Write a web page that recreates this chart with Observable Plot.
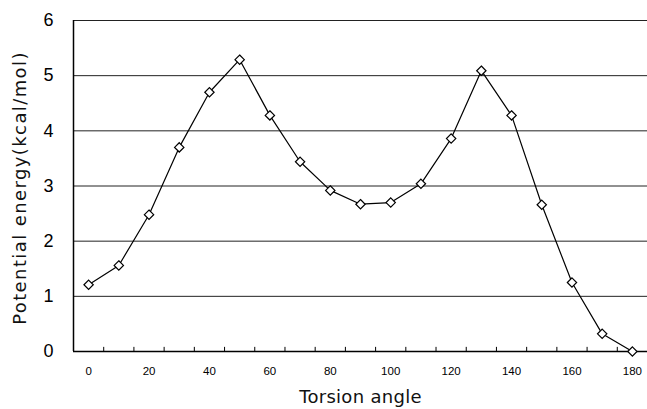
<!DOCTYPE html>
<html>
<head>
<meta charset="utf-8">
<script src="https://cdn.jsdelivr.net/npm/d3@7"></script>
<script src="https://cdn.jsdelivr.net/npm/@observablehq/plot@0.6"></script>
<style>
  html, body { margin: 0; padding: 0; background: #fff; }
  svg { display: block; }
</style>
</head>
<body>
<div id="chart"></div>
<script>
const angles = [0,10,20,30,40,50,60,70,80,90,100,110,120,130,140,150,160,170,180];
const energies = [1.21,1.56,2.48,3.7,4.7,5.29,4.28,3.44,2.92,2.67,2.70,3.04,3.86,5.09,4.28,2.66,1.25,0.32,0.0];
const xTickLabels = [0,20,40,60,80,100,120,140,160,180];
const xTickMarks = [5,15,25,35,45,55,65,75,85,95,105,115,125,135,145,155,165,175];
const yTicks = [0,1,2,3,4,5,6];
const gridLines = [1,2,3,4,5,6];
const xTitle = "Torsion angle";
const yTitle = "Potential energy(kcal/mol)";

const data = angles.map((a, i) => ({angle: a, energy: energies[i]}));

const chart = Plot.plot({
  width: 647,
  height: 409,
  marginLeft: 73,
  marginRight: 0,
  marginTop: 20,
  marginBottom: 58,
  style: {fontFamily: "'Liberation Sans', Arial, sans-serif", background: "#fff", color: "#000", overflow: "visible"},
  x: {domain: [-5, 185], label: null},
  y: {domain: [0, 6], label: null},
  marks: [
    Plot.ruleY(gridLines, {stroke: "#222", strokeWidth: 1}),
    Plot.ruleY([0], {stroke: "#000", strokeWidth: 1.5}),
    Plot.ruleX([-5], {stroke: "#000", strokeWidth: 1.5}),
    Plot.ruleX(xTickMarks, {y1: 0, y2: 0.075, stroke: "#000", strokeWidth: 1}),
    Plot.axisX({ticks: xTickLabels, tickSize: 0, tickPadding: 15, fontSize: 11.5, label: null}),
    Plot.axisY({ticks: yTicks, tickSize: 0, tickPadding: 20, fontSize: 18, tickFormat: "d", label: null}),
    Plot.text([xTitle], {frameAnchor: "bottom", dy: 51, fontSize: 18, fontFamily: "'DejaVu Sans', sans-serif", fill: "#111", text: d => d}),
    Plot.text([yTitle], {frameAnchor: "left", dx: -53, dy: 2, rotate: -90, textAnchor: "middle", fontSize: 18, fontFamily: "'DejaVu Sans', sans-serif", fill: "#111", text: d => d}),
    Plot.line(data, {x: "angle", y: "energy", stroke: "#000", strokeWidth: 1.2}),
    Plot.dot(data, {x: "angle", y: "energy", symbol: "diamond2", r: 4.2, fill: "#fff", stroke: "#000", strokeWidth: 1.2})
  ]
});
d3.select(chart).selectAll("text").filter(function () { return this.textContent === yTitle; }).attr("letter-spacing", 1.4);
d3.select(chart).selectAll("text").filter(function () { return this.textContent === xTitle; }).attr("letter-spacing", 0.3);
document.getElementById("chart").appendChild(chart);
</script>
</body>
</html>
